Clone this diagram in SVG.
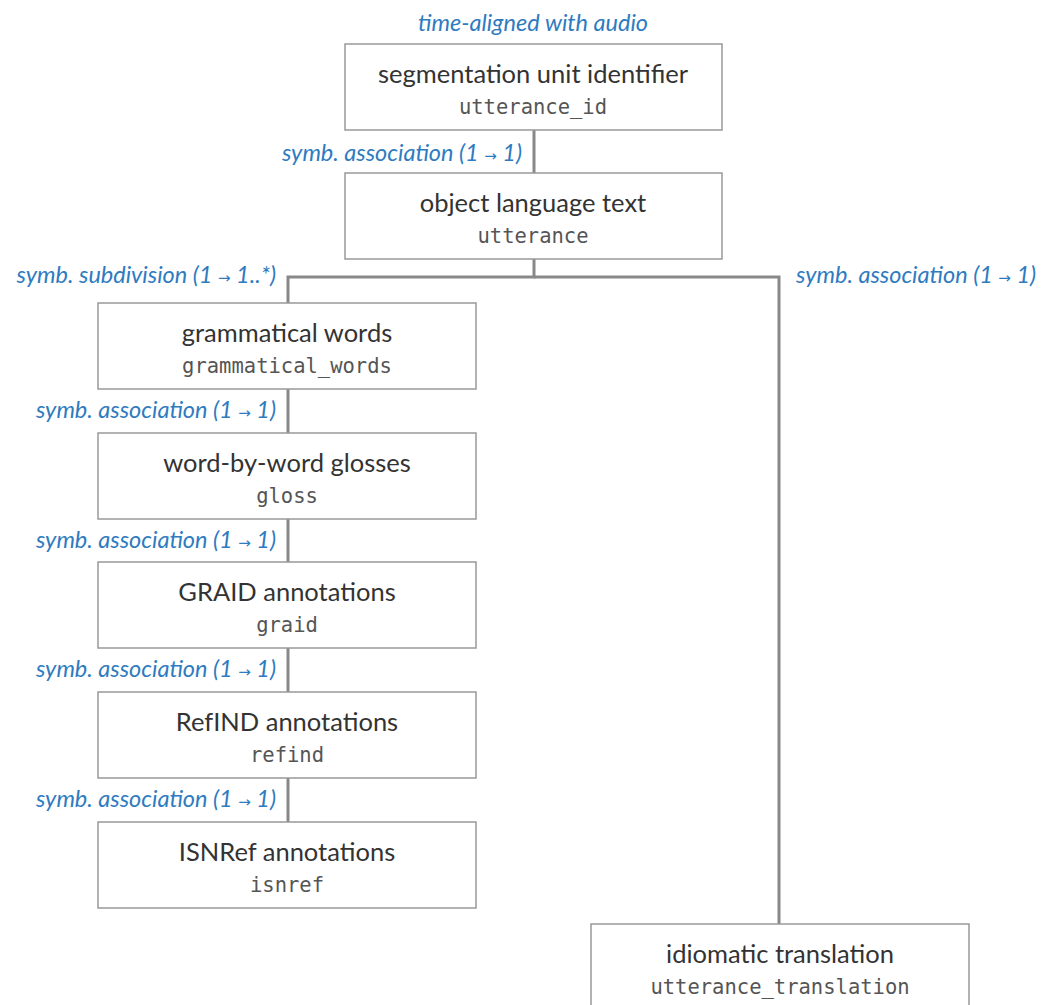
<svg xmlns="http://www.w3.org/2000/svg" width="1046" height="1005" viewBox="0 0 1046 1005">
<style>
.box{fill:#fff;stroke:#999;stroke-width:1.5}
.t{font-family:Lato,"Noto Sans",sans-serif;font-size:25.5px;fill:#333;text-anchor:middle}
.m{font-family:"DejaVu Sans Mono","Liberation Mono",monospace;font-size:20.5px;fill:#555;text-anchor:middle}
.l{font-family:Lato,"Noto Sans",sans-serif;font-style:italic;font-size:23.5px;fill:#2e7bbf}
.ar{font-family:"DejaVu Sans",sans-serif;font-style:normal;font-size:15px}
.c{fill:none;stroke:#888;stroke-width:3}
</style>
<rect width="1046" height="1005" fill="#fff"/>
<g id="connectors">
<line class="c" x1="534" y1="130" x2="534" y2="173"/>
<polyline class="c" points="534,259 534,277 288,277 288,303"/>
<polyline class="c" points="534,277 779,277 779,924"/>
<line class="c" x1="288" y1="389" x2="288" y2="433"/>
<line class="c" x1="288" y1="519" x2="288" y2="562"/>
<line class="c" x1="288" y1="648" x2="288" y2="692"/>
<line class="c" x1="288" y1="778" x2="288" y2="822"/>
</g>
<g id="labels" xml:space="preserve">
<text class="l" x="533" y="31" text-anchor="middle">time-aligned with audio</text>
<text class="l" x="522" y="161" text-anchor="end">symb. association  (1 <tspan class="ar">→</tspan> 1)</text>
<text class="l" x="276" y="283" text-anchor="end">symb. subdivision  (1 <tspan class="ar">→</tspan> 1..*)</text>
<text class="l" x="796" y="283">symb. association  (1 <tspan class="ar">→</tspan> 1)</text>
<text class="l" x="276" y="418" text-anchor="end">symb. association  (1 <tspan class="ar">→</tspan> 1)</text>
<text class="l" x="276" y="548" text-anchor="end">symb. association  (1 <tspan class="ar">→</tspan> 1)</text>
<text class="l" x="276" y="677" text-anchor="end">symb. association  (1 <tspan class="ar">→</tspan> 1)</text>
<text class="l" x="276" y="807" text-anchor="end">symb. association  (1 <tspan class="ar">→</tspan> 1)</text>
</g>
<g id="n1"><rect class="box" x="345" y="44" width="377" height="86"/><text class="t" x="533" y="83">segmentation unit identifier</text><text class="m" x="533" y="114">utterance_id</text></g>
<g id="n2"><rect class="box" x="345" y="173" width="377" height="86"/><text class="t" x="533" y="212">object language text</text><text class="m" x="533" y="243">utterance</text></g>
<g id="n3"><rect class="box" x="98" y="303" width="378" height="86"/><text class="t" x="287" y="342">grammatical words</text><text class="m" x="287" y="373">grammatical_words</text></g>
<g id="n4"><rect class="box" x="98" y="433" width="378" height="86"/><text class="t" x="287" y="472">word-by-word glosses</text><text class="m" x="287" y="503">gloss</text></g>
<g id="n5"><rect class="box" x="98" y="562" width="378" height="86"/><text class="t" x="287" y="601">GRAID annotations</text><text class="m" x="287" y="632">graid</text></g>
<g id="n6"><rect class="box" x="98" y="692" width="378" height="86"/><text class="t" x="287" y="731">RefIND annotations</text><text class="m" x="287" y="762">refind</text></g>
<g id="n7"><rect class="box" x="98" y="822" width="378" height="86"/><text class="t" x="287" y="861">ISNRef annotations</text><text class="m" x="287" y="892">isnref</text></g>
<g id="n8"><rect class="box" x="591" y="924" width="378" height="90"/><text class="t" x="780" y="963">idiomatic translation</text><text class="m" x="780" y="994">utterance_translation</text></g>
</svg>
